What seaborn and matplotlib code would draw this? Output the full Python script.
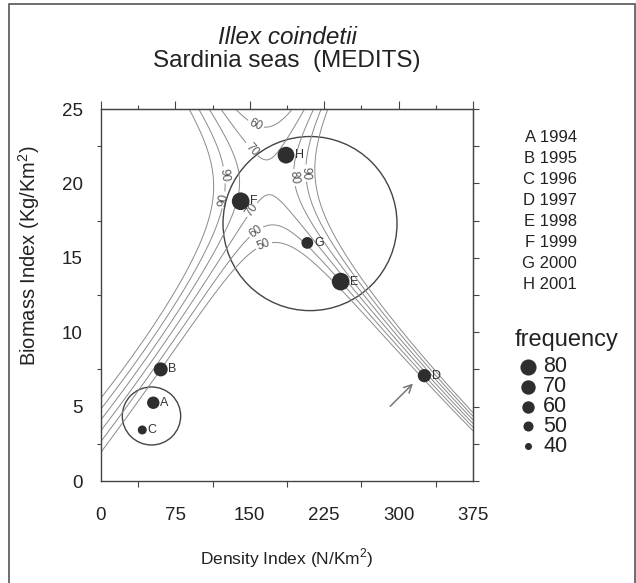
import numpy as np
import pandas as pd
import matplotlib
matplotlib.use("Agg")
import matplotlib.pyplot as plt
import seaborn as sns
from matplotlib.patches import Ellipse, Rectangle
from matplotlib.lines import Line2D

# ---------------- data ----------------
letters = ["A", "B", "C", "D", "E", "F", "G", "H"]
years = [1994, 1995, 1996, 1997, 1998, 1999, 2000, 2001]
density = [52.7, 60.2, 41.6, 326.0, 241.6, 140.8, 208.0, 186.5]   # N/Km2
biomass = [5.26, 7.5, 3.43, 7.08, 13.4, 18.8, 16.0, 21.9]         # Kg/Km2
frequency = [60, 68, 46, 64, 90, 90, 57, 84]

legend_freq = [80, 70, 60, 50, 40]
contour_levels = [50, 60, 70, 80, 90, 100]

x_ticks = [0, 75, 150, 225, 300, 375]
y_ticks = [0, 5, 10, 15, 20, 25]

# circles grouping years (centre density, centre biomass, half-width, half-height)
big_circle = (210.7, 17.3, 87.7, 5.85)
small_circle = (50.9, 4.37, 29.4, 1.95)
arrow_tail = (289.6, 4.89)
arrow_head = (316.5, 6.68)

# response surface (saddle)
saddle = (168.0, 20.4)          # density, biomass of the saddle point
arm_right_end = (375.0, 3.9)    # where the down-right valley leaves the plot
arm_left_end = (0.0, 3.5)       # where the down-left valley leaves the plot
asym_level = 71.5
bend = 2.0
gain = 5400.0
tilt_x = 0.96
r0 = 0.7

# ---------------- style ----------------
sns.set_style("white")
plt.rcParams["font.family"] = ["Liberation Sans", "DejaVu Sans"]
plt.rcParams["mathtext.fontset"] = "custom"
plt.rcParams["mathtext.rm"] = "Liberation Sans"

W, H = 636, 583
fig = plt.figure(figsize=(W / 100, H / 100), dpi=100)
ax = fig.add_axes([101 / W, 1 - 481 / H, 372 / W, 372 / H])

XMAX, YMAX = 375.0, 25.0

# ---------------- contour surface ----------------
def warp(yv):
    return np.log(np.asarray(yv) / YMAX + bend)

p0, Q0 = saddle[0] / XMAX, warp(saddle[1])
s1 = (Q0 - warp(arm_right_end[1])) / (arm_right_end[0] / XMAX - p0)
s2 = (Q0 - warp(arm_left_end[1])) / (p0 - arm_left_end[0] / XMAX)

gx = np.linspace(0, XMAX, 500)
gy = np.linspace(0, YMAX, 500)
GX, GY = np.meshgrid(gx, gy)
dp = GX / XMAX - p0
dQ = warp(GY) - Q0
dq = GY / YMAX - saddle[1] / YMAX
L1 = dQ + s1 * dp
L2 = dQ - s2 * dp
g = np.exp(tilt_x * dp) / (1 + (dp ** 2 + dq ** 2) / r0 ** 2)
Z = asym_level - gain * g * L1 * L2

cs = ax.contour(GX, GY, Z, levels=contour_levels, colors="#8a8a8a", linewidths=0.7)
label_pos = [(157, 24.1), (154, 22.4), (128, 20.6), (123, 18.9),
             (153, 18.2), (157, 16.7), (165, 15.7), (197, 20.4), (211, 20.7)]
ax.clabel(cs, manual=label_pos, fmt="%d", fontsize=8.5, inline=True,
          inline_spacing=2, colors="#555555")

# ---------------- circles & arrow ----------------
for (cx, cy, rx, ry) in (big_circle, small_circle):
    ax.add_patch(Ellipse((cx, cy), 2 * rx, 2 * ry, fill=False,
                         edgecolor="#444444", linewidth=1.0))
ax.annotate("", xy=arrow_head, xytext=arrow_tail,
            arrowprops=dict(arrowstyle="->", color="#777777", lw=1.1,
                            mutation_scale=14))

# ---------------- points ----------------
df = pd.DataFrame({"density": density, "biomass": biomass,
                   "frequency": frequency, "letter": letters})
S_MIN, S_MAX, F_MIN, F_MAX = 25.4, 162.0, 40, 90
sns.scatterplot(data=df, x="density", y="biomass", size="frequency",
                sizes=(S_MIN, S_MAX), size_norm=(F_MIN, F_MAX),
                color="#2e2e2e", edgecolor="none", legend=False, ax=ax,
                zorder=5)
for _, r in df.iterrows():
    s = S_MIN + (r["frequency"] - F_MIN) * (S_MAX - S_MIN) / (F_MAX - F_MIN)
    ax.annotate(r["letter"], (r["density"], r["biomass"]),
                xytext=(np.sqrt(s) / 2 + 0.5, 0), textcoords="offset points",
                ha="left", va="center", fontsize=9, color="#333333", zorder=6)

# ---------------- axes ----------------
ax.set_xlim(0, XMAX)
ax.set_ylim(0, YMAX)
ax.set_xticks(x_ticks)
ax.set_yticks(y_ticks)
ax.set_xticks([37.5 + 75 * i for i in range(5)], minor=True)
ax.set_yticks([2.5 + 5 * i for i in range(5)], minor=True)
ax.tick_params(axis="x", which="major", length=0, pad=19, labelsize=13.5,
               labelcolor="#222222")
ax.tick_params(axis="x", which="minor", bottom=True, length=4, width=0.8,
               direction="out", color="#444444")
ax.tick_params(axis="y", which="major", length=0, pad=13, labelsize=13.5,
               labelcolor="#222222")
ax.tick_params(axis="y", which="minor", left=True, length=3, width=0.8,
               direction="out", color="#444444")
for sp in ax.spines.values():
    sp.set_color("#444444")
    sp.set_linewidth(1.0)

top = ax.secondary_xaxis("top")
top.set_xticks(x_ticks)
top.set_xticks([37.5 + 75 * i for i in range(5)], minor=True)
top.tick_params(which="major", length=6, width=0.8, direction="out",
                labeltop=False, color="#444444")
top.tick_params(which="minor", length=3, width=0.8, direction="out",
                color="#444444")
top.spines["top"].set_color("#444444")

right = ax.secondary_yaxis("right")
right.set_yticks(y_ticks)
right.set_yticks([2.5 + 5 * i for i in range(5)], minor=True)
right.tick_params(which="major", length=4, width=0.8, direction="out",
                  labelright=False, color="#444444")
right.tick_params(which="minor", length=4, width=0.8, direction="out",
                  color="#444444")
right.spines["right"].set_color("#444444")

ax.set_xlabel("Density Index (N/Km$^2$)", fontsize=12.5, color="#222222")
ax.set_ylabel("Biomass Index (Kg/Km$^2$)", fontsize=14.5, color="#222222")
ax.xaxis.set_label_coords(0.5, -(546 - 481) / 372)
ax.yaxis.set_label_coords(-(101 - 42) / 372, (481 - 256) / 372)

# ---------------- titles ----------------
fig.text(287 / W, 1 - 37 / H, "Illex coindetii", ha="center", va="center",
         fontsize=17.5, style="italic", color="#222222")
fig.text(287 / W, 1 - 61 / H, "Sardinia seas  (MEDITS)", ha="center",
         va="center", fontsize=17.5, color="#222222")

# ---------------- year key ----------------
for i, (lt, yr) in enumerate(zip(letters, years)):
    fig.text(577 / W, 1 - (137 + 21.1 * i) / H, f"{lt} {yr}", ha="right",
             va="center", fontsize=12, color="#222222")

# ---------------- frequency key ----------------
fig.text(515 / W, 1 - 340 / H, "frequency", ha="left", va="center",
         fontsize=17, color="#222222")
for i, f in enumerate(legend_freq):
    yy = 1 - (367 + 19.8 * i) / H
    s = S_MIN + (f - F_MIN) * (S_MAX - S_MIN) / (F_MAX - F_MIN)
    fig.add_artist(Line2D([528 / W], [yy], marker="o", markersize=np.sqrt(s),
                          color="#2e2e2e", markeredgewidth=0,
                          transform=fig.transFigure))
    fig.text(543 / W, yy, str(f), ha="left", va="center", fontsize=15.5,
             color="#222222")

# ---------------- outer frame ----------------
fig.add_artist(Rectangle((9 / W, -0.01), 625.5 / W, 1.01 - 4 / H,
                         transform=fig.transFigure, fill=False,
                         edgecolor="#555555", linewidth=1.2))

fig.savefig("out.png", dpi=100)
